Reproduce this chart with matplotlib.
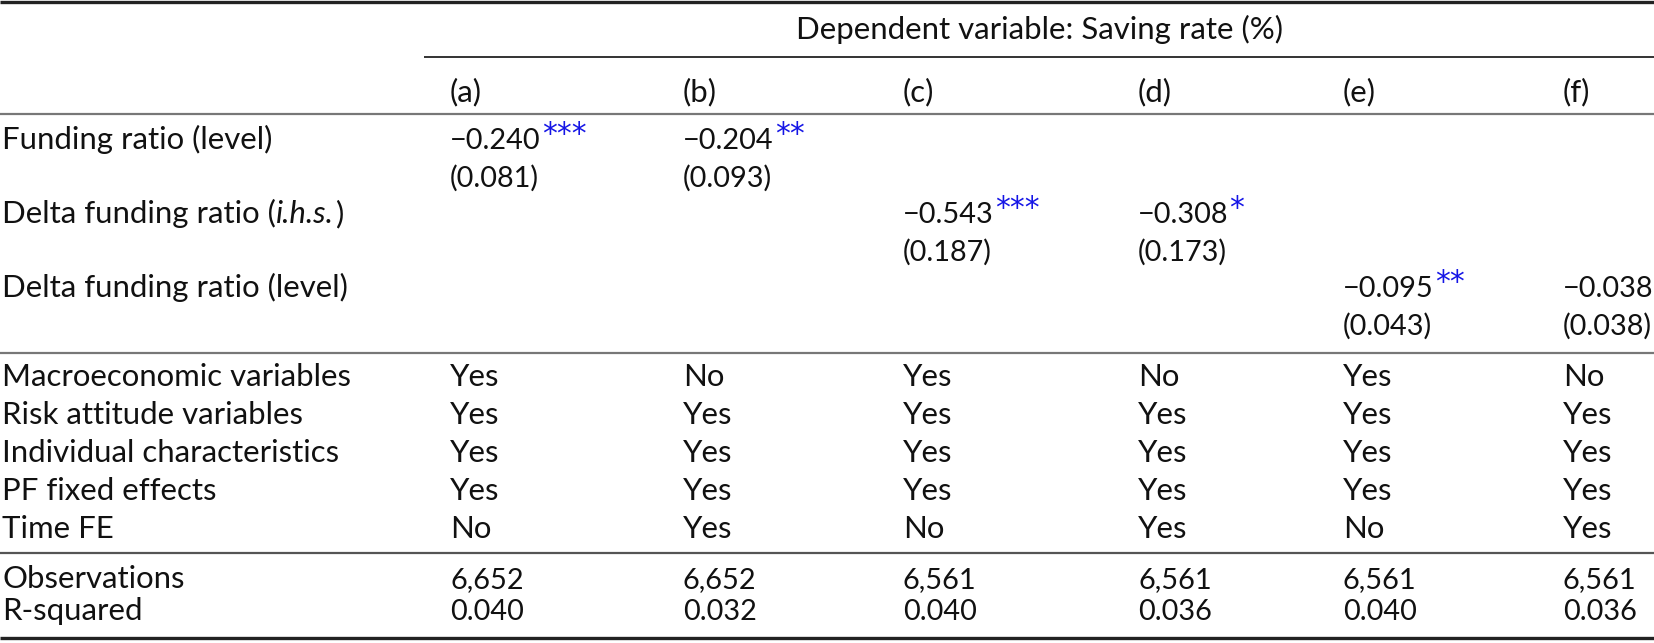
import matplotlib
matplotlib.use("Agg")
import matplotlib.pyplot as plt

plt.rcParams['font.family'] = ['Lato', 'DejaVu Sans']

# Data
header = "Dependent variable: Saving rate (%)"
columns = ["(a)", "(b)", "(c)", "(d)", "(e)", "(f)"]
coef_labels = ["Funding ratio (level)", "Delta funding ratio (", "Delta funding ratio (level)"]
coef_values = [-0.240, -0.204, -0.543, -0.308, -0.095, -0.038]
std_errors = [0.081, 0.093, 0.187, 0.173, 0.043, 0.038]
stars = ["***", "**", "***", "*", "**", ""]
coef_row = [0, 0, 1, 1, 2, 2]
control_labels = ["Macroeconomic variables", "Risk attitude variables",
                  "Individual characteristics", "PF fixed effects", "Time FE"]
controls = [
    ["Yes", "No", "Yes", "No", "Yes", "No"],
    ["Yes", "Yes", "Yes", "Yes", "Yes", "Yes"],
    ["Yes", "Yes", "Yes", "Yes", "Yes", "Yes"],
    ["Yes", "Yes", "Yes", "Yes", "Yes", "Yes"],
    ["No", "Yes", "No", "Yes", "No", "Yes"],
]
observations = [6652, 6652, 6561, 6561, 6561, 6561]
r_squared = [0.040, 0.032, 0.040, 0.036, 0.040, 0.036]

W, H = 1654, 643
fig = plt.figure(figsize=(W / 100, H / 100), dpi=100)
ax = fig.add_axes([0, 0, 1, 1])
ax.set_xlim(0, W)
ax.set_ylim(H, 0)
ax.axis("off")
renderer = fig.canvas.get_renderer()


def fit(s, target):
    probe = ax.text(0, 0, s, fontsize=20)
    w = probe.get_window_extent(renderer).width
    probe.remove()
    return 20 * target / w


# fit font sizes so widths match the reference
fs = fit("Individual characteristics", 338)
fs_num = fit("(0.043)", 89)
cap = fs * 100 / 72 * 0.36  # half cap height in px

col_x = [450, 683, 903, 1138, 1343, 1563]


def put(x, yc, s, size=None, **kw):
    size = size or fs
    return ax.text(x, yc + cap, s, va="baseline", ha="left", color="#111111",
                   fontsize=size, **kw)


def right_edge(t):
    return t.get_window_extent(renderer).x1


# rules
ax.plot([0, W], [1.5, 1.5], color="#222222", lw=2.4, solid_capstyle="butt")
ax.plot([424, W], [57, 57], color="#111111", lw=1.2, solid_capstyle="butt")
ax.plot([0, W], [114, 114], color="#777777", lw=1.6, solid_capstyle="butt")
ax.plot([0, W], [353, 353], color="#777777", lw=1.6, solid_capstyle="butt")
ax.plot([0, W], [553, 553], color="#555555", lw=1.6, solid_capstyle="butt")
ax.plot([0, W], [638, 638], color="#222222", lw=2.4, solid_capstyle="butt")

# header
ax.text(1039, 28 + cap, header, ha="center", va="baseline", fontsize=fs, color="#111111")
for x, c in zip(col_x, columns):
    put(x, 90, c)

# coefficient rows
row_y = [138, 212, 286]
for i, lab in enumerate(coef_labels):
    t = put(2, row_y[i], lab)
    if i == 1:
        t2 = put(right_edge(t), row_y[i], "i.h.s.", style="italic")
        put(right_edge(t2) + 1, row_y[i], ")")

for j in range(len(columns)):
    y = row_y[coef_row[j]]
    t = put(col_x[j], y, f"{coef_values[j]:.3f}".replace("-", "\u2212"), size=fs_num)
    if stars[j]:
        ax.text(right_edge(t) + 1, y + 5, stars[j], fontsize=fs * 0.95, color="#1515e6",
                ha="left", va="baseline", family=["DejaVu Sans"])
    put(col_x[j], y + 38, f"({std_errors[j]:.3f})", size=fs_num)

# controls
ctrl_y = [375, 413, 451, 489, 527]
for i, lab in enumerate(control_labels):
    put(2, ctrl_y[i], lab)
    for j in range(len(columns)):
        put(col_x[j], ctrl_y[i], controls[i][j])

put(2, 577, "Observations")
put(2, 609, "R-squared")
for j in range(len(columns)):
    put(col_x[j], 577, f"{observations[j]:,}", size=fs_num)
    put(col_x[j], 609, f"{r_squared[j]:.3f}", size=fs_num)

fig.savefig("out.png", dpi=100)
